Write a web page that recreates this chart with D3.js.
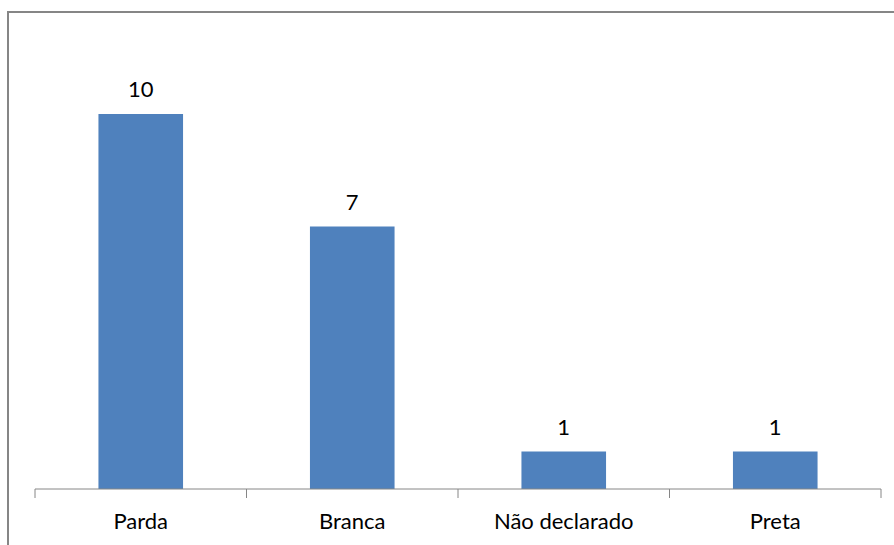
<!DOCTYPE html>
<html><head><meta charset="utf-8">
<script src="https://cdn.jsdelivr.net/npm/d3@7"></script>
<style>body{margin:0;background:#fff;overflow:hidden}</style>
</head><body>
<svg id="c" width="894" height="545"></svg>
<script>
const categories = ["Parda", "Branca", "Não declarado", "Preta"];
const values = [10, 7, 1, 1];

const svg = d3.select("#c");
const font = "Lato, 'Open Sans', sans-serif";

// chart frame
svg.append("rect").attr("x", 8).attr("y", 12).attr("width", 900).attr("height", 560)
  .attr("fill", "#fff").attr("stroke", "#868686").attr("stroke-width", 2);

const x = d3.scaleBand().domain(categories).range([35, 881]).padding(0);
const y = d3.scaleLinear().domain([0, 12]).range([489, 39]);
const bw = x.bandwidth() * 0.4;

svg.selectAll("rect.bar").data(values).enter().append("rect")
  .attr("class", "bar")
  .attr("x", (d, i) => x(categories[i]) + (x.bandwidth() - bw) / 2)
  .attr("y", d => y(d))
  .attr("width", bw)
  .attr("height", d => y(0) - y(d))
  .attr("fill", "#4f81bd");

svg.selectAll("text.val").data(values).enter().append("text")
  .attr("class", "val")
  .attr("x", (d, i) => x(categories[i]) + x.bandwidth() / 2)
  .attr("y", d => y(d) - 17)
  .attr("text-anchor", "middle")
  .attr("font-family", font).attr("font-size", 22).attr("fill", "#000")
  .text(d => d);

const g = svg.append("g").attr("transform", "translate(0,489)");
g.append("line").attr("x1", 35).attr("x2", 881).attr("stroke", "#868686");
const edges = categories.map(c => x(c)).concat([x.range()[1]]);
g.selectAll("line.tk").data(edges).enter().append("line").attr("class", "tk")
  .attr("x1", d => d).attr("x2", d => d).attr("y1", 0).attr("y2", 9)
  .attr("stroke", "#868686");
g.selectAll("text.cat").data(categories).enter().append("text").attr("class", "cat")
  .attr("x", d => x(d) + x.bandwidth() / 2).attr("y", 40)
  .attr("text-anchor", "middle")
  .attr("font-family", font).attr("font-size", 22).attr("fill", "#000")
  .text(d => d);
</script>
</body></html>
